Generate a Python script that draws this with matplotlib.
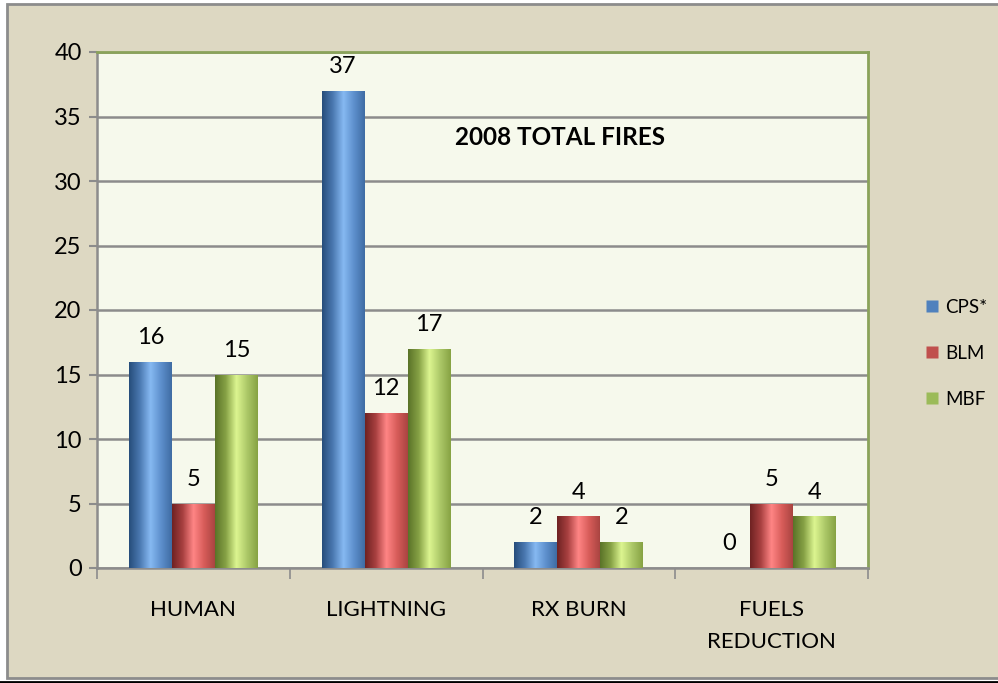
import matplotlib.pyplot as plt
import numpy as np
from matplotlib.colors import LinearSegmentedColormap
from matplotlib.patches import Rectangle
from matplotlib.lines import Line2D

plt.rcParams['font.family'] = ['Lato', 'DejaVu Sans']

categories = ['HUMAN', 'LIGHTNING', 'RX BURN', 'FUELS\nREDUCTION']
series_names = ['CPS*', 'BLM', 'MBF']
cps = [16, 37, 2, 0]
blm = [5, 12, 4, 5]
mbf = [15, 17, 2, 4]

# dark edge -> light highlight -> base colour, for the cylinder look
shades = {
    'CPS*': ['#264d7a', '#4a78b0', '#86b9f2', '#5d8fcc', '#3f6ca3'],
    'BLM': ['#6e2222', '#a84040', '#ff8585', '#d75c59', '#a94441'],
    'MBF': ['#5a7328', '#86a145', '#dcf590', '#acc868', '#86a243'],
}
legend_colors = {'CPS*': '#4f81bd', 'BLM': '#c0504d', 'MBF': '#9bbb59'}


def draw_cylinder_bars(ax, x, values, name):
    bars = ax.bar(x, values, width=0.223, facecolor='none', edgecolor='none', zorder=3)
    cmap = LinearSegmentedColormap.from_list(name, shades[name])
    grad = np.linspace(0, 1, 256).reshape(1, -1)
    for b in bars:
        if b.get_height() <= 0:
            continue
        x0, y0 = b.get_x(), b.get_y()
        im = ax.imshow(grad, cmap=cmap, aspect='auto', zorder=3,
                       extent=[x0, x0 + b.get_width(), y0, y0 + b.get_height()])
        im.set_clip_path(b)
    return bars


fig = plt.figure(figsize=(9.98, 6.83), dpi=100, facecolor='white')

# tan chart area with grey frame, black rule below
fig.patches.append(Rectangle((7 / 998, 5 / 683), 1.0, 674 / 683, transform=fig.transFigure,
                             facecolor='#ddd8c2', edgecolor='#8c8c8c', lw=2, zorder=-5))
fig.add_artist(Line2D([0, 1], [1.5 / 683, 1.5 / 683], color='black', lw=2, zorder=-4))

ax = fig.add_axes([97 / 998, 1 - 568 / 683, 771 / 998, 516 / 683])
ax.set_zorder(2)
ax.set_facecolor('#f6f9ec')

x = np.arange(len(categories))
offsets = [-0.223, 0, 0.223]
for name, vals, off in zip(series_names, [cps, blm, mbf], offsets):
    bars = draw_cylinder_bars(ax, x + off, vals, name)
    for b, v in zip(bars, vals):
        ax.annotate(str(v), (b.get_x() + b.get_width() / 2, v), xytext=(0, 10),
                    textcoords='offset points', ha='center', va='bottom',
                    fontsize=17, color='black', zorder=5, annotation_clip=False)

ax.set_xlim(-0.5, len(categories) - 0.5)
ax.set_ylim(0, 40)
ax.set_yticks(range(0, 41, 5))
ax.tick_params(axis='y', labelsize=17, length=6, width=1.5, color='#8c8c8c', pad=5)
ax.yaxis.grid(True, color='#8c8c8c', lw=1.8, zorder=1)
ax.set_axisbelow(True)

ax.set_xticks(x)
ax.set_xticklabels(categories, fontsize=16, linespacing=1.78)
ax.tick_params(axis='x', length=0, pad=23)
ax.set_xticks(np.arange(-0.5, len(categories), 1), minor=True)
ax.tick_params(axis='x', which='minor', length=8, width=1.2, color='#8c8c8c')

for side in ['left', 'bottom']:
    ax.spines[side].set_color('#8c8c8c')
    ax.spines[side].set_linewidth(1.8)
for side in ['top', 'right']:
    ax.spines[side].set_color('#8aa35a')
    ax.spines[side].set_linewidth(2)

ax.text(0.6005, 0.835, '2008 TOTAL FIRES', transform=ax.transAxes, ha='center',
        va='center', fontsize=17.5, fontweight='bold')

handles = [Line2D([], [], marker='s', linestyle='none', markersize=8.5,
                  markerfacecolor=legend_colors[n], markeredgecolor='none') for n in series_names]
fig.legend(handles, series_names, loc='upper left', bbox_to_anchor=(904 / 998, 1 - 282 / 683),
           frameon=False, fontsize=13.5, labelspacing=1.55, handletextpad=0.1, handlelength=1.2)

fig.savefig('out.png', dpi=100, facecolor=fig.get_facecolor())
